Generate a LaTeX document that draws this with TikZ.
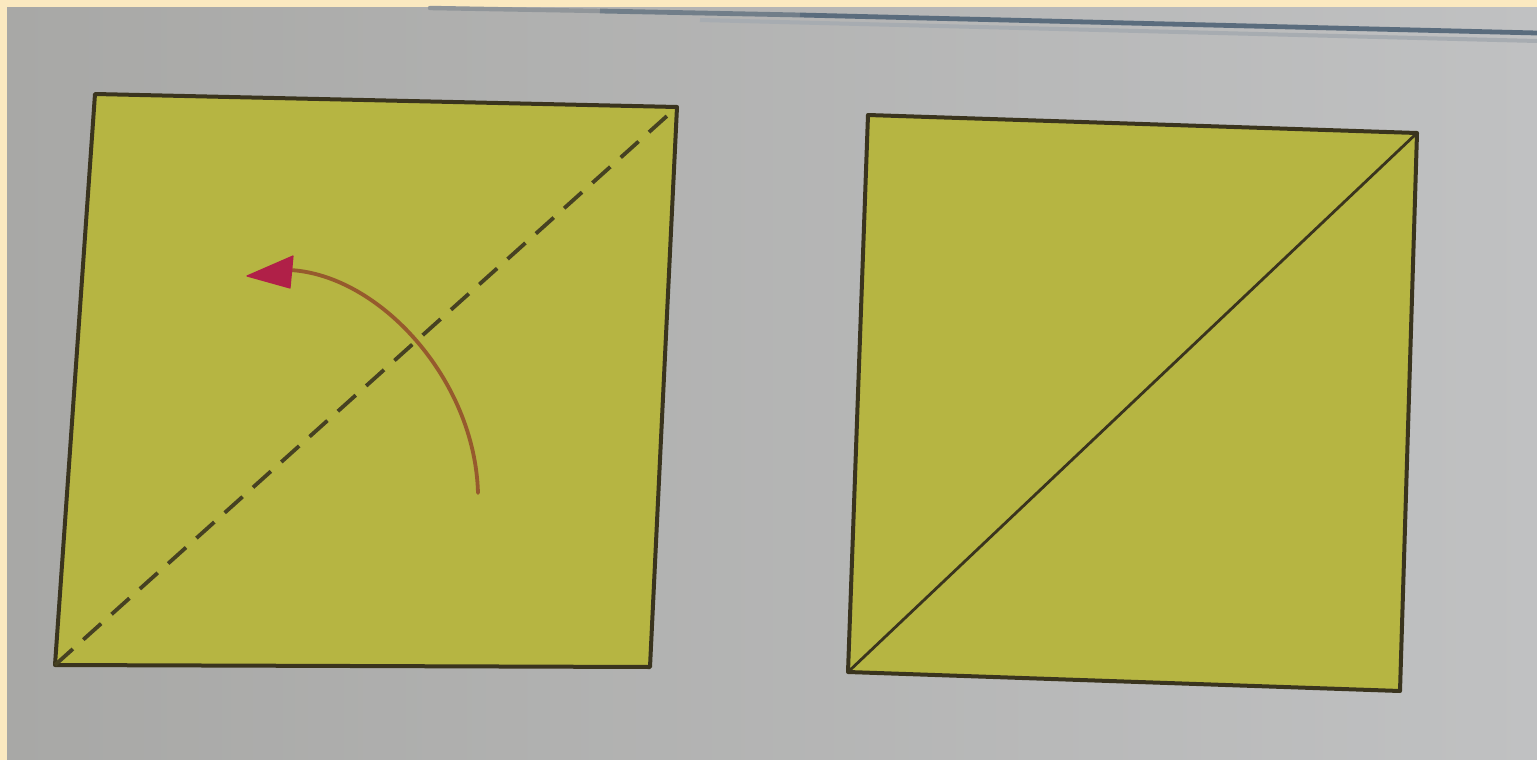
\documentclass[tikz,border=0pt]{standalone}
\begin{document}
\begin{tikzpicture}[x=0.5pt,y=-0.5pt,
  paper/.style={fill=paperyellow,draw=edgedark,line width=2pt,line join=round},
  foldline/.style={draw=edgedark!90!paperyellow,line width=1.9pt,dash pattern=on 12pt off 7pt},
  creaseline/.style={draw=edgedark,line width=1.4pt},
  turnarc/.style={draw=arcbrown,line width=1.9pt,line cap=round},
  turnhead/.style={fill=headred,draw=headred,line width=0.6pt,line join=round}]
\definecolor{paperyellow}{RGB}{182,181,66}
\definecolor{edgedark}{RGB}{58,52,30}
\definecolor{arcbrown}{RGB}{150,90,45}
\definecolor{headred}{RGB}{176,32,72}
\definecolor{cream}{RGB}{251,233,192}
\definecolor{grayL}{RGB}{168,168,166}
\definecolor{grayR}{RGB}{192,193,194}
\definecolor{rule}{RGB}{90,108,125}
\useasboundingbox (0,0) rectangle (1537,760);
\fill[cream] (0,0) rectangle (1537,760);
\shade[left color=grayL,right color=grayR] (7,7) rectangle (1537,760);
% top rule line of the page
\draw[rule!30!grayL,line width=2.2pt,line cap=round] (430,8) -- (600,11);
\draw[rule!70!grayL,line width=2.4pt] (600,11) -- (800,15);
\draw[rule,line width=2.4pt] (800,15) -- (1537,33);
\draw[rule!25!grayR,line width=2pt] (700,20) -- (1537,41);
% left square
\coordinate (aTL) at (95,94);
\coordinate (aTR) at (677,107);
\coordinate (aBR) at (650,667);
\coordinate (aBL) at (55,665);
\path[paper] (aTL) -- (aTR) -- (aBR) -- (aBL) -- cycle;
\draw[foldline] (aBL) -- (aTR);
% turning arrow
\coordinate (arcS) at (478,493);
\coordinate (arcE) at (290,270);
\coordinate (tip) at (247,276);
\draw[turnarc] (arcS) .. controls (475,380) and (380,275) .. (arcE);
\path[turnhead] (tip) -- (293,256) -- (290,288) -- cycle;
% right square
\coordinate (bTL) at (868,115);
\coordinate (bTR) at (1417,133);
\coordinate (bBR) at (1400,691);
\coordinate (bBL) at (848,672);
\path[paper] (bTL) -- (bTR) -- (bBR) -- (bBL) -- cycle;
\draw[creaseline] (bBL) -- (bTR);
\end{tikzpicture}
\end{document}
